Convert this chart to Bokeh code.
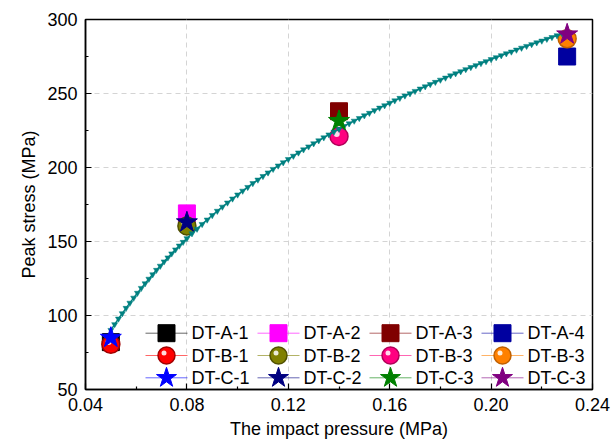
from bokeh.plotting import figure
from bokeh.models import FixedTicker, PrintfTickFormatter, Range1d
from bokeh.core.properties import value
from bokeh.embed import file_html
from bokeh.resources import INLINE

# Impact pressure (MPa) of the four test levels
pressure = [0.05, 0.08, 0.14, 0.23]

# Peak stress (MPa) of each specimen group
stress_a = [82.0, 169.0, 238.0, 275.0]
stress_b = [80.5, 160.5, 221.0, 287.0]
stress_c = [85.0, 163.0, 231.5, 290.0]

names_a = ["DT-A-1", "DT-A-2", "DT-A-3", "DT-A-4"]
names_b = ["DT-B-1", "DT-B-2", "DT-B-3", "DT-B-3"]
names_c = ["DT-C-1", "DT-C-2", "DT-C-3", "DT-C-3"]

colors_a = ["#000000", "#FF00FF", "#800000", "#0000A0"]
colors_b = ["#FF0000", "#808000", "#FF0080", "#FF8000"]
rims_b = ["#A00000", "#505000", "#B00058", "#C06000"]
colors_c = ["#0000FF", "#000080", "#008000", "#800080"]

# Fitted trend of peak stress against impact pressure
fit_x = [0.050, 0.0515, 0.053, 0.0545, 0.056, 0.0575, 0.059, 0.0605, 0.062, 0.0635,
         0.065, 0.0665, 0.068, 0.0695, 0.071, 0.0725, 0.074, 0.0755, 0.077, 0.0785,
         0.080, 0.082, 0.084, 0.086, 0.088, 0.090, 0.092, 0.094, 0.096, 0.098,
         0.100, 0.102, 0.104, 0.106, 0.108, 0.110, 0.112, 0.114, 0.116, 0.118,
         0.120, 0.122, 0.124, 0.126, 0.128, 0.130, 0.132, 0.134, 0.136, 0.138,
         0.140, 0.142, 0.144, 0.146, 0.148, 0.150, 0.152, 0.154, 0.156, 0.158,
         0.160, 0.162, 0.164, 0.166, 0.168, 0.170, 0.172, 0.174, 0.176, 0.178,
         0.180, 0.182, 0.184, 0.186, 0.188, 0.190, 0.192, 0.194, 0.196, 0.198,
         0.200, 0.202, 0.204, 0.206, 0.208, 0.210, 0.212, 0.214, 0.216, 0.218,
         0.220, 0.222, 0.224, 0.226, 0.228, 0.230]
fit_y = [90.1, 94.0, 97.8, 101.4, 105.0, 108.5, 111.9, 115.2, 118.5, 121.6,
         124.7, 127.7, 130.7, 133.5, 136.4, 139.1, 141.8, 144.5, 147.1, 149.6,
         152.1, 155.4, 158.5, 161.7, 164.7, 167.7, 170.6, 173.4, 176.2, 178.9,
         181.6, 184.2, 186.7, 189.3, 191.7, 194.1, 196.5, 198.9, 201.2, 203.4,
         205.6, 207.8, 210.0, 212.1, 214.1, 216.2, 218.2, 220.2, 222.2, 224.1,
         226.0, 227.9, 229.7, 231.5, 233.3, 235.1, 236.8, 238.6, 240.3, 241.9,
         243.6, 245.2, 246.9, 248.5, 250.0, 251.6, 253.2, 254.7, 256.2, 257.7,
         259.2, 260.6, 262.1, 263.5, 264.9, 266.3, 267.7, 269.0, 270.4, 271.7,
         273.1, 274.4, 275.7, 277.0, 278.2, 279.5, 280.8, 282.0, 283.2, 284.4,
         285.6, 286.8, 288.0, 289.2, 290.4, 291.5]

x_ticks = [0.04, 0.08, 0.12, 0.16, 0.20, 0.24]
x_minor = [0.06, 0.10, 0.14, 0.18, 0.22]
y_ticks = [50, 100, 150, 200, 250, 300]
y_minor = [75, 125, 175, 225, 275]

FONT = "Liberation Sans"
W, H = 613, 446
BL, BR, BT, BB = 85, 21, 19, 57
FW, FH = W - BL - BR, H - BT - BB

p = figure(width=W, height=H, output_backend="svg", toolbar_location=None,
           x_range=Range1d(0.04, 0.24), y_range=Range1d(50, 300),
           min_border_left=BL, min_border_right=BR, min_border_top=BT, min_border_bottom=BB)

# pixel-based ranges over the frame, used to lay out the legend block
p.extra_x_ranges = {"px": Range1d(0, FW)}
p.extra_y_ranges = {"px": Range1d(0, FH)}

p.outline_line_color = "black"
p.outline_line_width = 1.5
p.background_fill_color = "white"

for ax in (p.xaxis[0], p.yaxis[0]):
    ax.axis_line_width = 1.5
    ax.major_tick_in = 6
    ax.major_tick_out = 0
    ax.minor_tick_in = 3
    ax.minor_tick_out = 0
    ax.major_tick_line_width = 1.2
    ax.minor_tick_line_width = 1.2
    ax.major_label_text_font = FONT
    ax.major_label_text_font_size = "18px"
    ax.major_label_text_color = "black"
    ax.axis_label_text_font = FONT
    ax.axis_label_text_font_size = "18px"
    ax.axis_label_text_font_style = "normal"
    ax.axis_label_text_color = "black"

p.xaxis.ticker = FixedTicker(ticks=x_ticks, minor_ticks=x_minor)
p.yaxis.ticker = FixedTicker(ticks=y_ticks, minor_ticks=y_minor)
p.xaxis.formatter = PrintfTickFormatter(format="%.2f")
p.xaxis.axis_label = "The impact pressure (MPa)"
p.yaxis.axis_label = "Peak stress (MPa)"
p.xaxis.major_label_standoff = 8
p.yaxis.major_label_standoff = 8
p.xaxis.axis_label_standoff = 5
p.yaxis.axis_label_standoff = 5

for g in p.grid:
    g.grid_line_color = "#d4d4d4"
    g.grid_line_dash = "5 4"
    g.grid_line_width = 1

# square markers (group A)
p.scatter(x=pressure, y=stress_a, marker="square", size=17,
          fill_color=colors_a, line_color=colors_a)

# shaded sphere markers (group B)
p.scatter(x=pressure, y=stress_b, marker="circle", size=18,
          fill_color=colors_b, line_color=rims_b, line_width=1.5)
p.scatter(x=[x - 0.0009 for x in pressure], y=[y + 1.6 for y in stress_b],
          marker="circle", size=6, fill_color="white", fill_alpha=0.85, line_alpha=0)

# fitted trend
p.line(x=fit_x, y=fit_y, line_color="#008080", line_width=1.5)
p.scatter(x=fit_x, y=fit_y, marker="inverted_triangle", size=6,
          fill_color="#008080", line_color="#008080", line_width=0.5)

# star markers (group C)
p.scatter(x=pressure, y=stress_c, marker="star", size=22,
          fill_color=colors_c, line_color=colors_c)

# legend block: 3 rows (A, B, C) x 4 columns, in frame pixels
col_x0, col_step = 60, 112
row_y0, row_step = 56.3, 22.3
glyph_w, text_gap = 42, 46

groups = [
    (names_a, colors_a, colors_a, "square", 17),
    (names_b, colors_b, rims_b, "circle", 17),
    (names_c, colors_c, colors_c, "star", 21),
]
for r, (names, fills, lines, marker, size) in enumerate(groups):
    ry = row_y0 - r * row_step
    xs = [col_x0 + i * col_step for i in range(len(names))]
    for x0, c in zip(xs, fills):
        p.line(x=[x0, x0 + glyph_w], y=[ry, ry], line_color=c, line_width=1, line_alpha=0.6,
               x_range_name="px", y_range_name="px")
    cx = [x0 + glyph_w / 2 for x0 in xs]
    p.scatter(x=cx, y=[ry] * len(xs), marker=marker, size=size,
              fill_color=fills, line_color=lines, line_width=1.5 if marker == "circle" else 1,
              x_range_name="px", y_range_name="px")
    if marker == "circle":
        p.scatter(x=[c - 2.5 for c in cx], y=[ry + 2.5] * len(xs), marker="circle", size=5,
                  fill_color="white", fill_alpha=0.85, line_alpha=0,
                  x_range_name="px", y_range_name="px")
    p.text(x=[x0 + text_gap for x0 in xs], y=[ry] * len(xs), text=names,
           text_font=value(FONT), text_font_size="18px", text_color="black",
           text_baseline="middle", text_align="left",
           x_range_name="px", y_range_name="px")

open("out.html", "w").write(file_html(p, INLINE))
